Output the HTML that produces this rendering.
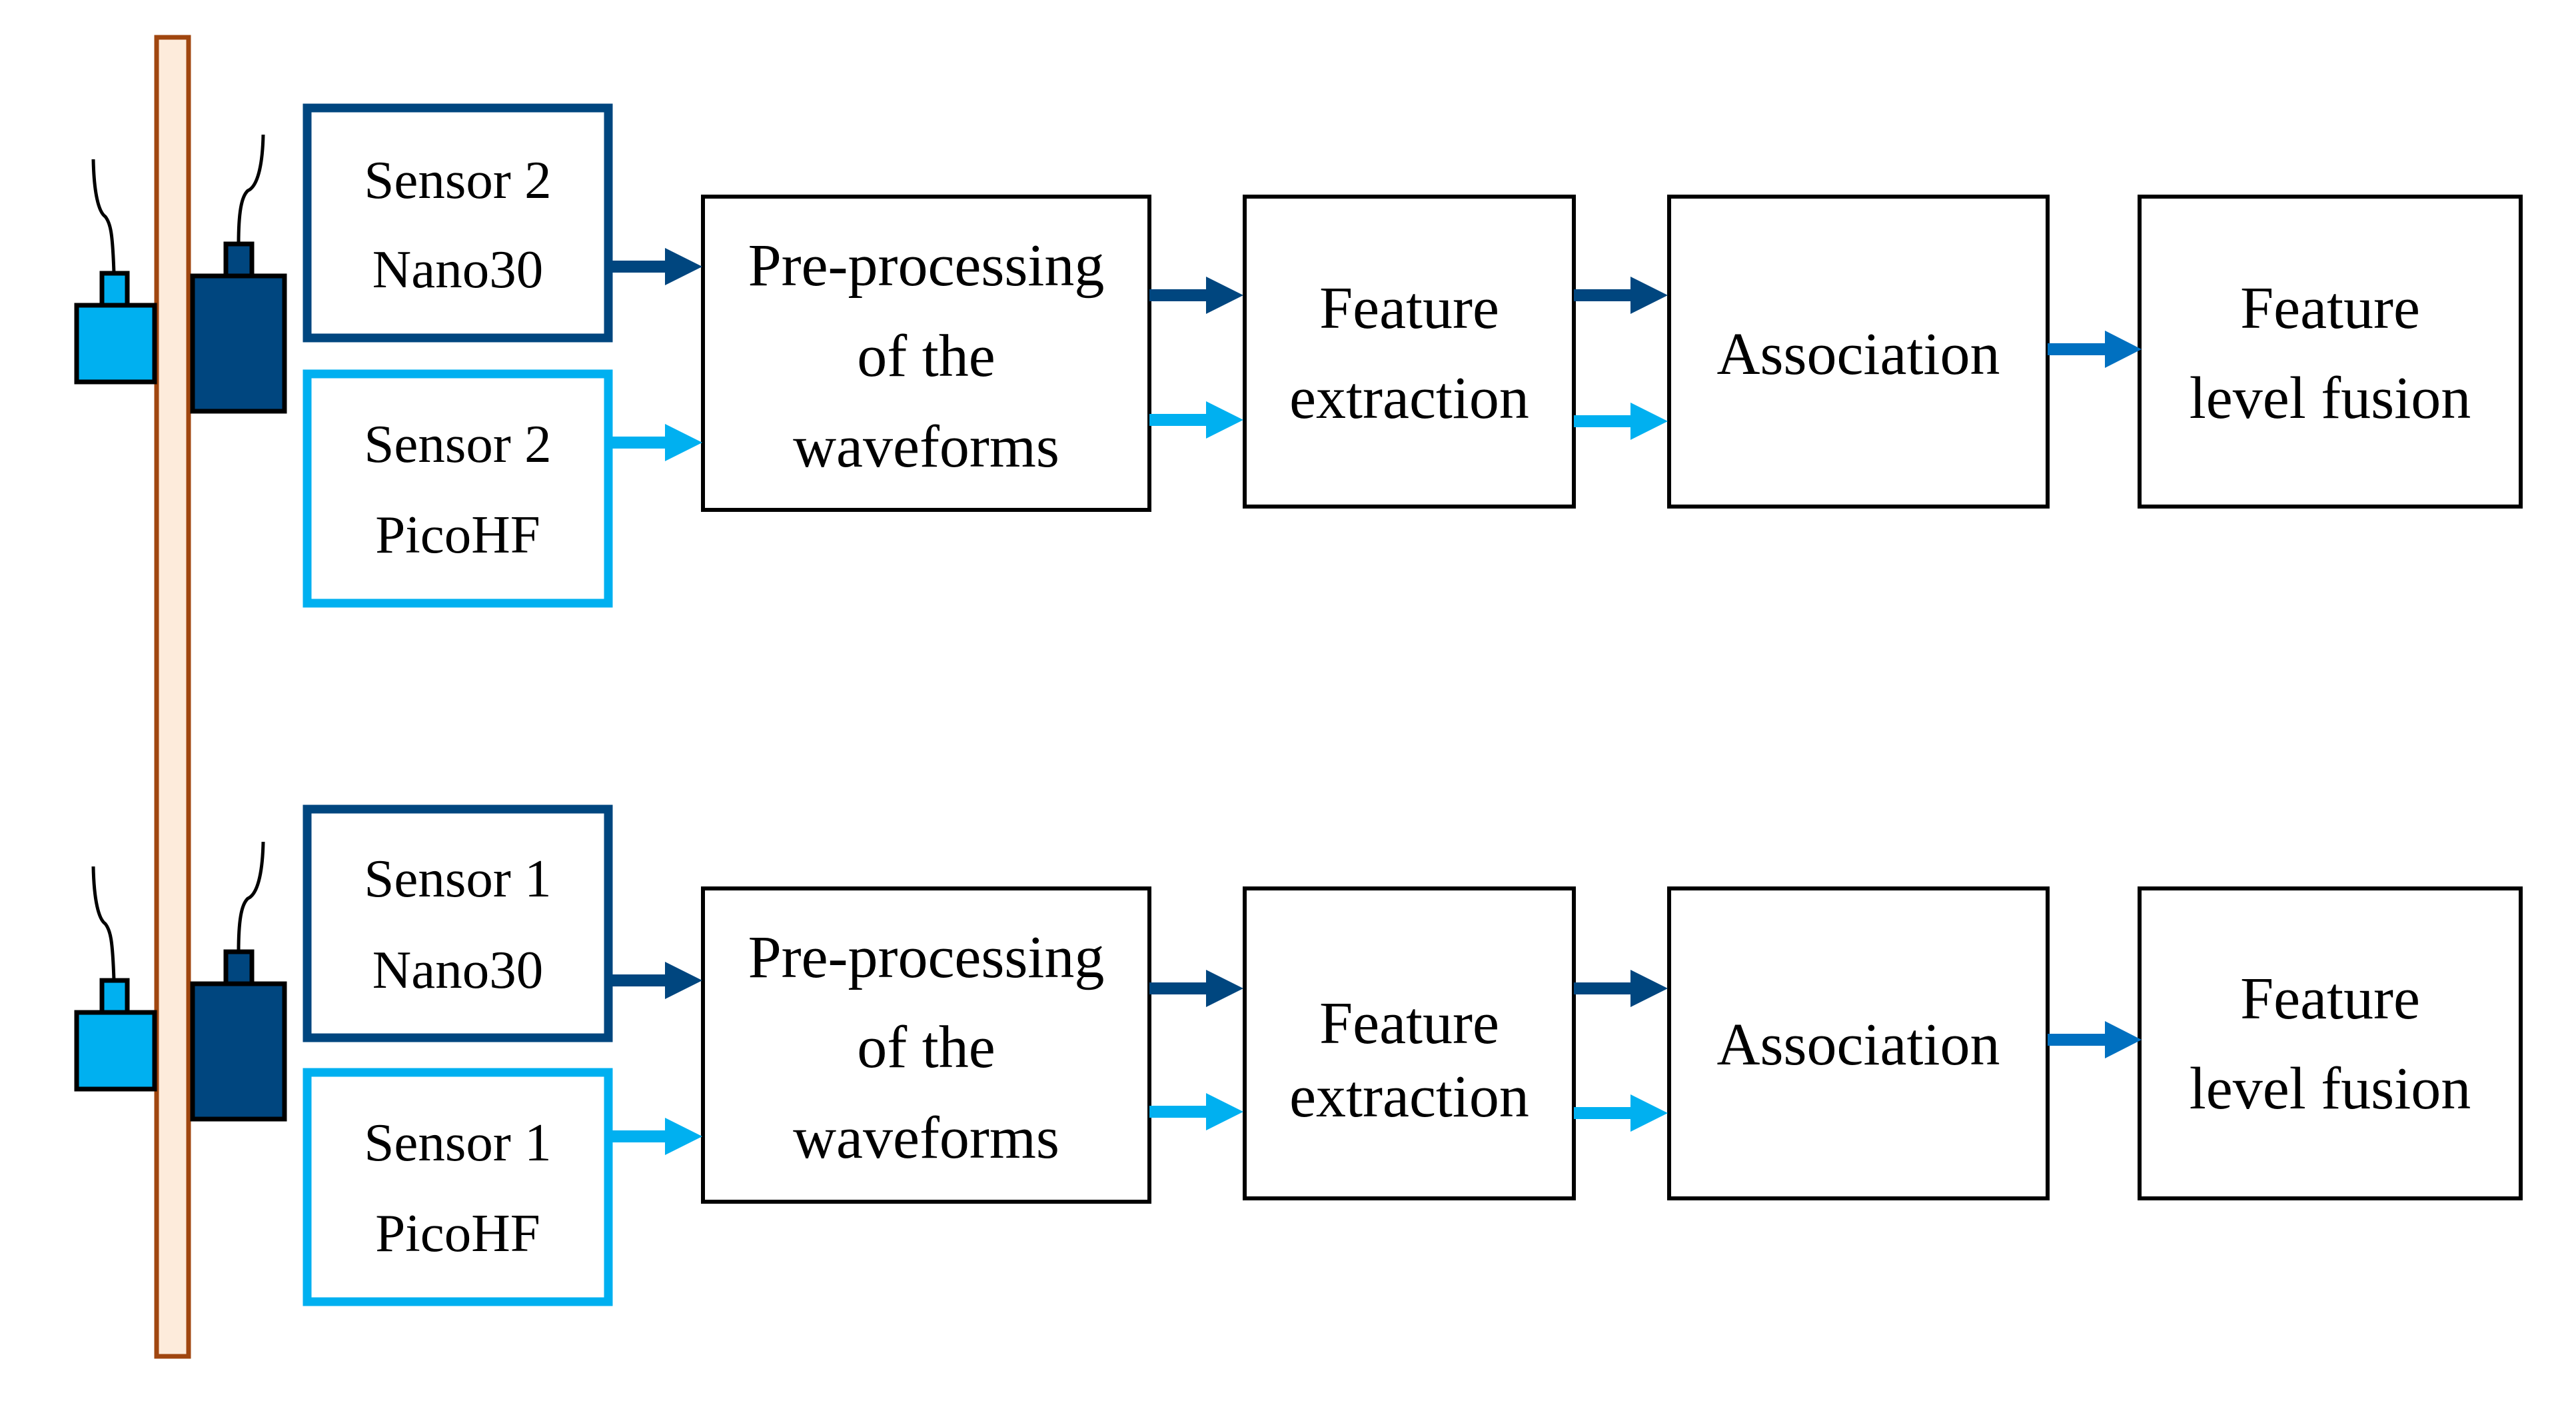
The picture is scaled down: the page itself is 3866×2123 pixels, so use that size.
<!DOCTYPE html>
<html><head><meta charset="utf-8"><style>
html,body{margin:0;padding:0;background:#fff}
svg{display:block}
text{font-family:"Liberation Serif",serif;fill:#000;text-anchor:middle}
.s{font-size:81px}.b{font-size:90px}
</style></head><body>
<svg width="3866" height="2123" viewBox="0 0 3866 2123" xmlns="http://www.w3.org/2000/svg">
<rect x="235" y="56" width="48" height="1979" fill="#fdebdb" stroke="#a0460f" stroke-width="7"/>

<g>
<path d="M171 410 C169 350 166 335 158 325 C148 318 141 290 140 239" fill="none" stroke="#000" stroke-width="5"/>
<rect x="153" y="410" width="38" height="48" fill="#00b0f0" stroke="#000" stroke-width="7"/>
<rect x="115" y="458" width="117" height="115" fill="#00b0f0" stroke="#000" stroke-width="7"/>
<path d="M358 366 C358 320 362 295 372 286 C386 280 394 250 395 202" fill="none" stroke="#000" stroke-width="5"/>
<rect x="339" y="366" width="39" height="50" fill="#00467f" stroke="#000" stroke-width="7"/>
<rect x="289" y="414" width="138" height="203" fill="#00467f" stroke="#000" stroke-width="7"/>
</g>
<g>
<path d="M171 1471 C169 1411 166 1396 158 1386 C148 1379 141 1351 140 1300" fill="none" stroke="#000" stroke-width="5"/>
<rect x="153" y="1471" width="38" height="48" fill="#00b0f0" stroke="#000" stroke-width="7"/>
<rect x="115" y="1519" width="117" height="115" fill="#00b0f0" stroke="#000" stroke-width="7"/>
<path d="M358 1428 C358 1382 362 1357 372 1348 C386 1342 394 1312 395 1263" fill="none" stroke="#000" stroke-width="5"/>
<rect x="339" y="1428" width="39" height="50" fill="#00467f" stroke="#000" stroke-width="7"/>
<rect x="289" y="1476" width="138" height="203" fill="#00467f" stroke="#000" stroke-width="7"/>
</g>

<rect x="461" y="162" width="452" height="345" fill="none" stroke="#00467f" stroke-width="13"/>
<rect x="461" y="561" width="452" height="344" fill="none" stroke="#00b0f0" stroke-width="13"/>
<rect x="461" y="1214" width="452" height="343" fill="none" stroke="#00467f" stroke-width="13"/>
<rect x="461" y="1609" width="452" height="344" fill="none" stroke="#00b0f0" stroke-width="13"/>
<text class="s" x="687" y="297">Sensor 2</text><text class="s" x="687" y="431">Nano30</text>
<text class="s" x="687" y="693">Sensor 2</text><text class="s" x="687" y="829">PicoHF</text>
<text class="s" x="687" y="1345">Sensor 1</text><text class="s" x="687" y="1482">Nano30</text>
<text class="s" x="687" y="1741">Sensor 1</text><text class="s" x="687" y="1877">PicoHF</text>

<g fill="none" stroke="#000" stroke-width="6">
<rect x="1055" y="295" width="670" height="470"/>
<rect x="1868" y="295" width="494" height="465"/>
<rect x="2505" y="295" width="568" height="465"/>
<rect x="3211" y="295" width="572" height="465"/>
<rect x="1055" y="1333" width="670" height="470"/>
<rect x="1868" y="1333" width="494" height="465"/>
<rect x="2505" y="1333" width="568" height="465"/>
<rect x="3211" y="1333" width="572" height="465"/>
</g>
<text class="b" x="1390" y="428">Pre-processing</text>
<text class="b" x="1390" y="564">of the</text>
<text class="b" x="1390" y="700">waveforms</text>
<text class="b" x="2115" y="492">Feature</text>
<text class="b" x="2115" y="627">extraction</text>
<text class="b" x="2789" y="561">Association</text>
<text class="b" x="3497" y="492">Feature</text>
<text class="b" x="3497" y="627">level fusion</text>

<text class="b" x="1390" y="1466">Pre-processing</text>
<text class="b" x="1390" y="1601">of the</text>
<text class="b" x="1390" y="1737">waveforms</text>
<text class="b" x="2115" y="1565">Feature</text>
<text class="b" x="2115" y="1675">extraction</text>
<text class="b" x="2789" y="1597">Association</text>
<text class="b" x="3497" y="1528">Feature</text>
<text class="b" x="3497" y="1663">level fusion</text>

<g>
<rect x="919" y="391" width="80" height="18" fill="#00467f"/><polygon points="998,372 1054,400 998,428" fill="#00467f"/>
<rect x="919" y="655" width="80" height="18" fill="#00b0f0"/><polygon points="998,636 1054,664 998,692" fill="#00b0f0"/>
<rect x="1725" y="434" width="86" height="18" fill="#00467f"/><polygon points="1810,415 1866,443 1810,471" fill="#00467f"/>
<rect x="1725" y="621" width="86" height="18" fill="#00b0f0"/><polygon points="1810,602 1866,630 1810,658" fill="#00b0f0"/>
<rect x="2362" y="434" width="86" height="18" fill="#00467f"/><polygon points="2447,415 2503,443 2447,471" fill="#00467f"/>
<rect x="2362" y="623" width="86" height="18" fill="#00b0f0"/><polygon points="2447,604 2503,632 2447,660" fill="#00b0f0"/>
<rect x="3073" y="515" width="87" height="18" fill="#0070c0"/><polygon points="3159,496 3214,524 3159,552" fill="#0070c0"/>

<rect x="919" y="1462" width="80" height="18" fill="#00467f"/><polygon points="998,1443 1054,1471 998,1499" fill="#00467f"/>
<rect x="919" y="1696" width="80" height="18" fill="#00b0f0"/><polygon points="998,1677 1054,1705 998,1733" fill="#00b0f0"/>
<rect x="1725" y="1474" width="86" height="18" fill="#00467f"/><polygon points="1810,1455 1866,1483 1810,1511" fill="#00467f"/>
<rect x="1725" y="1659" width="86" height="18" fill="#00b0f0"/><polygon points="1810,1640 1866,1668 1810,1696" fill="#00b0f0"/>
<rect x="2362" y="1474" width="86" height="18" fill="#00467f"/><polygon points="2447,1455 2503,1483 2447,1511" fill="#00467f"/>
<rect x="2362" y="1661" width="86" height="18" fill="#00b0f0"/><polygon points="2447,1642 2503,1670 2447,1698" fill="#00b0f0"/>
<rect x="3073" y="1551" width="87" height="18" fill="#0070c0"/><polygon points="3159,1532 3214,1560 3159,1588" fill="#0070c0"/>
</g>
</svg>
</body></html>
